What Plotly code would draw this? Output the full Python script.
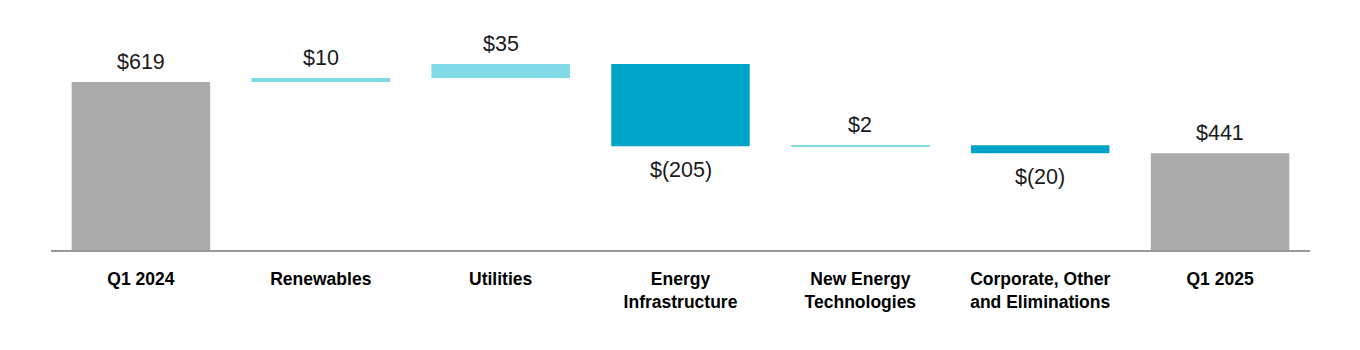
import plotly.graph_objects as go

categories = ["Q1 2024", "Renewables", "Utilities", "Energy<br>Infrastructure",
              "New Energy<br>Technologies", "Corporate, Other<br>and Eliminations", "Q1 2025"]
values = [619, 10, 35, -205, 2, -20, 441]
measures = ["absolute", "relative", "relative", "relative", "relative", "relative", "total"]
labels = ["$619", "$10", "$35", "$(205)", "$2", "$(20)", "$441"]

GRAY = "#ABABAB"
LIGHT = "#7FD9E7"
TEAL = "#00A3C8"
FONT = "Liberation Sans, Arial, sans-serif"

fig = go.Figure(go.Waterfall(
    x=categories,
    y=values,
    measure=measures,
    increasing=dict(marker=dict(color=LIGHT)),
    decreasing=dict(marker=dict(color=TEAL)),
    totals=dict(marker=dict(color=GRAY)),
    connector=dict(visible=False),
    width=0.77,
    hoverinfo="skip",
))

# value labels placed above (gains/totals) or below (losses) each bar end
annotations = []
running = 0
for cat, v, m, lab in zip(categories, values, measures, labels):
    if m == "absolute":
        running = v
        top, bottom = v, 0
    elif m == "total":
        top, bottom = running, 0
    else:
        start = running
        running += v
        top, bottom = max(start, running), min(start, running)
    if m != "relative" or v >= 0:
        annotations.append(dict(x=cat, y=top, text=lab, showarrow=False,
                                yanchor="middle", yshift=20,
                                font=dict(size=21.5, color="#1a1a1a", family=FONT)))
    else:
        annotations.append(dict(x=cat, y=bottom, text=lab, showarrow=False,
                                yanchor="middle", yshift=-24,
                                font=dict(size=21.5, color="#1a1a1a", family=FONT)))

fig.update_layout(
    width=1360, height=350,
    margin=dict(l=51, r=50, t=10, b=100),
    paper_bgcolor="white", plot_bgcolor="white",
    showlegend=False,
    annotations=annotations,
    font=dict(family=FONT, color="#000000"),
    xaxis=dict(showline=True, linecolor="#999999", linewidth=2, ticks="",
               tickfont=dict(size=17.5, weight="bold", color="#000000", family=FONT),
               ticklabelstandoff=12, showgrid=False, zeroline=False),
    yaxis=dict(range=[200, 798.5], visible=False, showgrid=False, zeroline=False),
)

fig.write_html("out.html")
